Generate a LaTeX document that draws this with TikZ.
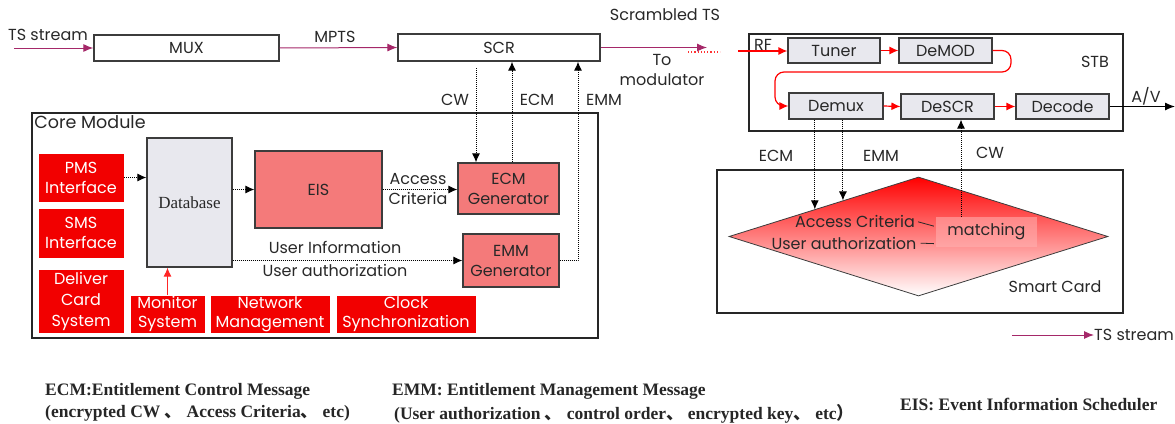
\documentclass[tikz,border=0pt]{standalone}
\usepackage{fontspec}
\setmainfont{Poppins}
\newfontfamily\serifb{Liberation Serif}
\newfontfamily\cjk{Noto Sans CJK SC}
\usetikzlibrary{arrows.meta,calc,shapes.geometric}
\definecolor{tsc}{RGB}{165,40,105}
\definecolor{redbox}{RGB}{242,0,0}
\definecolor{pinkbox}{RGB}{244,122,122}
\definecolor{graybox}{RGB}{232,232,238}
\definecolor{edge}{RGB}{60,60,60}
\definecolor{txt}{RGB}{40,40,40}
\tikzset{
  wbox/.style={draw=edge, line width=1.3pt, fill=white, inner sep=0pt, text=txt},
  rbox/.style={fill=redbox, draw=white, line width=0.8pt, inner sep=0pt, text=white, align=center},
  pbox/.style={fill=pinkbox, draw=edge, line width=1.2pt, inner sep=0pt, text=txt, align=center},
  gbox/.style={fill=graybox, draw=edge, line width=1.2pt, inner sep=0pt, text=txt},
  lbl/.style={inner sep=0pt, text=txt},
  tsarrow/.style={draw=tsc, line width=1pt, -{Latex[length=10pt,width=8pt]}},
  dotarrow/.style={draw=black, line width=1pt, densely dotted, -{Latex[length=9pt,width=8pt]}},
  redarrow/.style={draw=red, line width=1.2pt, -{Latex[length=9pt,width=8pt]}},
  foot/.style={inner sep=0pt, anchor=west, font=\serifb\bfseries\fontsize{17.5}{20}\selectfont, text=black!85}
}
\begin{document}
\begin{tikzpicture}[x=1pt,y=-1pt, font=\fontsize{16}{20}\selectfont]
\useasboundingbox (0,0) rectangle (1175,423);
% top chain
\node[wbox, minimum width=185, minimum height=26] (mux) at (186.5,48) {MUX};
\node[wbox, minimum width=202, minimum height=27] (scr) at (499,47.5) {SCR};
\node[lbl] (tsinlbl) at (48,35) {TS stream};
\coordinate (tsin) at (14,48);
\draw[tsarrow] (tsin) -- (mux.west);
\draw[tsarrow] (mux.east) -- (scr.west);
\node[lbl] (mpts) at (335,37) {MPTS};
\coordinate (scrend) at (707,47.5);
\draw[tsarrow] (scr.east) -- (scrend);
\node[lbl] (scrts) at (665,15) {Scrambled TS};
\node[lbl, align=center] (tomod) at (662,70) {To\\modulator};
\coordinate (dotsA) at (688,52);
\coordinate (dotsB) at (720,52);
\draw[draw=red!80, line width=1.2pt, dotted] (dotsA) -- (dotsB);

% core module
\node[draw=black!85, line width=1.6pt, minimum width=566, minimum height=225, inner sep=0pt] (core) at (315,225.5) {};
\node[lbl, anchor=north west, font=\fontsize{17.5}{20}\selectfont] (corelbl) at ($(core.north west)+(3,3)$) {Core Module};
\node[rbox, minimum width=86, minimum height=49] (pms) at (81,177.5) {PMS\\Interface};
\node[rbox, minimum width=86, minimum height=50] (sms) at (81,233) {SMS\\Interface};
\node[rbox, minimum width=86, minimum height=64, font=\fontsize{16}{21}\selectfont] (dcs) at (81,301) {Deliver\\Card\\System};
\node[rbox, minimum width=75, minimum height=38, font=\fontsize{16}{19}\selectfont] (mon) at (167.5,314) {Monitor\\System};
\node[rbox, minimum width=120, minimum height=38, font=\fontsize{16}{19}\selectfont] (net) at (270,314) {Network\\Management};
\node[rbox, minimum width=140, minimum height=38, font=\fontsize{16}{19}\selectfont] (clk) at (406,314) {Clock\\Synchronization};
\node[gbox, minimum width=85, minimum height=129, font=\serifb\fontsize{17}{19}\selectfont] (db) at (189.5,202.5) {Database};
\node[pbox, minimum width=127, minimum height=77] (eis) at (318.5,189.5) {EIS};
\node[pbox, minimum width=101, minimum height=51] (ecmg) at (508.5,188.5) {ECM\\Generator};
\node[pbox, minimum width=96, minimum height=53] (emmg) at (511,260.5) {EMM\\Generator};

\draw[dotarrow] (pms.east) -- (pms.east -| db.west);
\draw[dotarrow] (db.east |- eis.west) -- (eis.west);
\draw[dotarrow] (eis.east) -- (eis.east -| ecmg.west);
\node[lbl, align=center] (acc) at (418,189) {Access\\Criteria};
\draw[dotarrow] (db.east |- emmg.west) -- (emmg.west);
\node[lbl] (uinf) at (335,247) {User Information};
\node[lbl] (uauth) at (335,270) {User authorization};
\draw[draw=red!85, line width=1.2pt, -{Latex[length=9pt,width=8pt]}] (mon.north) -- (mon.north |- db.south);

% connectors core <-> SCR
\coordinate (cwx) at (476,68);
\coordinate (ecmx) at (512,0);
\coordinate (emmx) at (578,0);
\draw[dotarrow] (cwx) -- (cwx |- ecmg.north);
\draw[dotarrow] (ecmx |- ecmg.north) -- (ecmx |- scr.south);
\draw[dotarrow] (emmg.east) -| (emmx |- scr.south);
\node[lbl] (cwl) at (455,100) {CW};
\node[lbl] (ecml) at (537,100) {ECM};
\node[lbl] (emml) at (604,100) {EMM};

% STB
\node[draw=black!85, line width=1.8pt, minimum width=374, minimum height=97, inner sep=0pt] (stb) at (936,82.5) {};
\node[gbox, minimum width=92, minimum height=25] (tuner) at (834,50.5) {Tuner};
\node[gbox, minimum width=93, minimum height=25] (demod) at (945.5,50.5) {DeMOD};
\node[gbox, minimum width=94, minimum height=26] (demux) at (836,106) {Demux};
\node[gbox, minimum width=93, minimum height=25] (descr) at (947.5,106.5) {DeSCR};
\node[gbox, minimum width=93, minimum height=25] (decode) at (1062.5,106.5) {Decode};
\node[lbl] (stbl) at (1095,62) {STB};
\node[lbl] (rfl) at (763,45) {RF};
\node[lbl] (avl) at (1146,96) {A/V};
\coordinate (rfin) at (738,51);
\draw[redarrow] (rfin) -- (tuner.west |- rfin);
\draw[redarrow] (tuner.east) -- (demod.west);
\draw[redarrow, rounded corners=9pt] (demod.east) -- (1011,50.5) -- (1011,72) -- (775,72) -- (775,106) -- (demux.west);
\draw[redarrow] (demux.east) -- (descr.west);
\draw[redarrow] (descr.east) -- (decode.west);
\coordinate (avend) at (1175,106.5);
\draw[draw=black, line width=1.2pt, -{Latex[length=10pt,width=8pt]}] (decode.east) -- (avend);

% smart card
\node[draw=black!85, line width=1.8pt, minimum width=406, minimum height=143, inner sep=0pt] (sc) at (920,241.5) {};
\node[diamond, aspect=3.18, minimum width=379, minimum height=119, inner sep=0pt, draw=edge, line width=0.8pt,
  top color=red, middle color=red!68!white, bottom color=white] (dia) at (918.5,236.5) {};
\node[inner sep=0pt, fill=red!30!white, fill opacity=0.55, text opacity=1, minimum width=101, minimum height=30, text=txt] (match) at (986.5,232) {matching};
\node[lbl] (accc) at (855,221) {Access Criteria};
\node[lbl] (uau2) at (844,243) {User authorization};
\draw[draw=txt, line width=0.8pt, shorten <=3pt, shorten >=2pt] (accc.east) -- (match.174);
\draw[draw=txt, line width=0.8pt, shorten <=4pt, shorten >=2pt] (uau2.east) -- (match.193);
\node[lbl] (scl) at (1055,287) {Smart Card};
\coordinate (ecmend) at ($(dia.west)!0.454!(dia.north)$);
\coordinate (emmend) at ($(dia.west)!0.602!(dia.north)$);
\coordinate (cwx2) at (961,0);
\draw[dotarrow] (ecmend |- demux.south) -- (ecmend);
\draw[dotarrow] (emmend |- demux.south) -- (emmend);
\draw[dotarrow] (cwx2 |- match.north) -- (cwx2 |- descr.south);
\node[lbl] (ecml2) at (776,156) {ECM};
\node[lbl] (emml2) at (881,156) {EMM};
\node[lbl] (cwl2) at (990,153) {CW};

% legend
\coordinate (lgs) at (1012,335);
\node[lbl, anchor=west] (lgt) at (1094,335) {TS stream};
\draw[tsarrow] (lgs) -- (lgt.west);

% footnotes
\node[foot] (f1) at (45,391) {ECM:Entitlement Control Message};
\node[foot] (f2) at (45,413) {(encrypted CW {\cjk 、} Access Criteria{\cjk 、} etc)};
\node[foot] (f3) at (392,391) {EMM: Entitlement Management Message};
\node[foot] (f4) at (394,414) {(User authorization {\cjk 、} control order{\cjk 、} encrypted key{\cjk 、} etc{\cjk ）}};
\node[foot] (f5) at (900,404) {EIS: Event Information Scheduler};
\end{tikzpicture}
\end{document}
